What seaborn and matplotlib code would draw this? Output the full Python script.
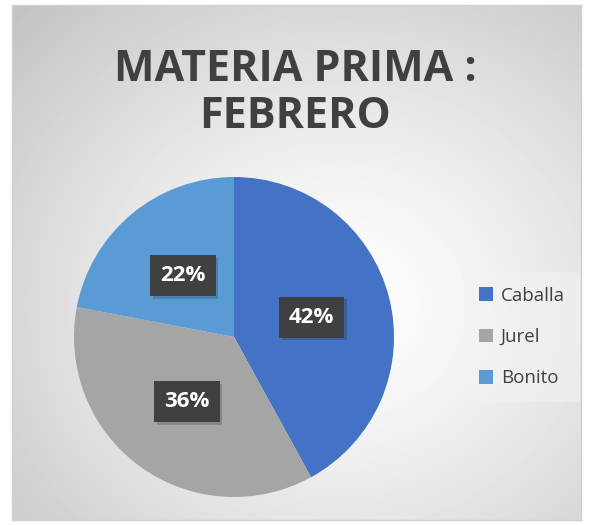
import numpy as np
import matplotlib
matplotlib.use("Agg")
import matplotlib.pyplot as plt
import matplotlib.patheffects as pe
import seaborn as sns

# data
species = ["Caballa", "Jurel", "Bonito"]
share = [42, 36, 22]
colors = ["#4472C4", "#A5A5A5", "#5B9BD5"]
title = "MATERIA PRIMA :\nFEBRERO"

sns.set_theme(style="white")
plt.rcParams["font.family"] = ["Open Sans", "DejaVu Sans"]

W, H = 591, 525
fig = plt.figure(figsize=(W / 100, H / 100), dpi=100)

# chart area background: radial gradient, light in the middle
bg = fig.add_axes([12 / W, 5 / H, 569 / W, 515 / H])
yy, xx = np.mgrid[0:515, 0:569]
d = np.hypot((xx - 330) / 420, (yy - 300) / 380)
shade = np.clip(1.0 - 0.21 * d ** 1.3, 0, 1)
bg.imshow(shade, cmap="gray", vmin=0, vmax=1, aspect="auto", interpolation="bilinear")
bg.set_xticks([])
bg.set_yticks([])
for s in bg.spines.values():
    s.set_color("#d0d0d0")
    s.set_linewidth(1)

fig.text(295 / W, 1 - 93 / H, title, ha="center", va="center",
         fontsize=31, fontweight="bold", color="#404040", linespacing=1.15)

ax = fig.add_axes([74 / W, 28 / H, 320 / W, 320 / H])
wedges, texts, autotexts = ax.pie(
    share, colors=colors, startangle=90, counterclock=False,
    autopct="%d%%", pctdistance=0.5, radius=1.0,
    wedgeprops=dict(linewidth=0),
    textprops=dict(color="white", fontsize=16, fontweight="bold"),
)
for t in autotexts:
    t.set_bbox(dict(boxstyle="square,pad=0.45", facecolor="#404040", edgecolor="none"))
    t.get_bbox_patch().set_path_effects([pe.SimplePatchShadow(offset=(2, -2), alpha=0.2), pe.Normal()])
ax.set_xlim(-1, 1)
ax.set_ylim(-1, 1)
ax.set_aspect("equal")
ax.axis("off")

leg = fig.legend(wedges, species, loc="center left",
                 bbox_to_anchor=(455 / W, 1 - 337 / H), frameon=True,
                 fontsize=13.5, handlelength=0.75, handleheight=0.75,
                 labelspacing=1.25, handletextpad=0.4, borderpad=0.8)
leg.get_frame().set_facecolor("#f2f2f2")
leg.get_frame().set_edgecolor("none")
leg.get_frame().set_alpha(0.6)
for t in leg.get_texts():
    t.set_color("#404040")

fig.savefig("out.png", dpi=100)
